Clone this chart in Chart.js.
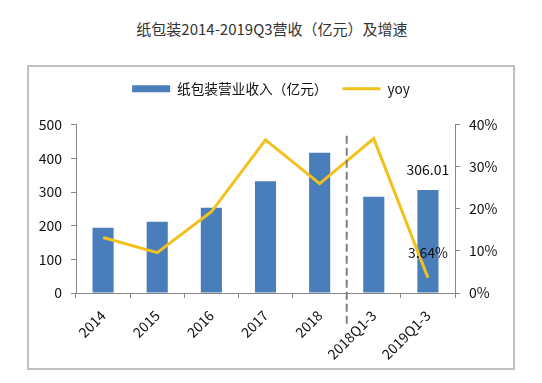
<!DOCTYPE html>
<html>
<head>
<meta charset="utf-8">
<script src="https://cdn.jsdelivr.net/npm/chart.js@4/dist/chart.umd.min.js"></script>
<style>
  html, body { margin: 0; padding: 0; background: #fff; }
  body { width: 542px; height: 383px; position: relative; overflow: hidden; font-family: "Noto Sans CJK SC", sans-serif; }
  #title { position: absolute; left: 0; top: 19px; width: 544px; text-align: center; font-size: 15px; color: #333; line-height: 20px; }
  #frame { position: absolute; left: 27px; top: 65px; width: 488px; height: 305px; border: 2px solid #c0c0c0; box-sizing: border-box; }
  #c { display: block; }
</style>
</head>
<body>
<div id="title">纸包装2014-2019Q3营收（亿元）及增速</div>
<div id="frame"><canvas id="c" width="484" height="301"></canvas></div>
<script>
const categories = ['2014', '2015', '2016', '2017', '2018', '2018Q1-3', '2019Q1-3'];
const revenue = [194, 212, 253, 332, 417, 286, 306.01];
const yoy = [13.2, 9.6, 19.3, 36.4, 26.0, 36.7, 3.64];
const revenueTicks = [0, 100, 200, 300, 400, 500];
const yoyTicks = [0, 10, 20, 30, 40];
const seriesNames = ['纸包装营业收入（亿元）', 'yoy'];
const revenueLabel = '306.01';
const yoyLabel = '3.64%';

const FONT = '"Noto Sans CJK SC", sans-serif';
const AXIS = '#868686';

// extra space between the legend and the plot area
const legendGap = {
  id: 'legendGap',
  beforeLayout(chart) {
    const lg = chart.legend;
    if (lg && !lg._gapPatched) {
      const fit = lg.fit;
      lg.fit = function () { fit.call(this); this.height += 19; };
      lg._gapPatched = true;
    }
  }
};

const overlay = {
  id: 'overlay',
  afterDatasetsDraw(chart) {
    const ctx = chart.ctx;
    const x = chart.scales.x;
    const area = chart.chartArea;
    // dashed separator between 2018 and 2018Q1-3
    const sx = (x.getPixelForValue(4) + x.getPixelForValue(5)) / 2;
    ctx.save();
    ctx.strokeStyle = '#7f7f7f';
    ctx.lineWidth = 2;
    ctx.setLineDash([8, 4]);
    ctx.beginPath();
    ctx.moveTo(sx, area.top + 11);
    ctx.lineTo(sx, area.bottom + 33);
    ctx.stroke();
    ctx.restore();

    // data labels on the last category
    ctx.save();
    ctx.font = '14px ' + FONT;
    ctx.fillStyle = '#111';
    ctx.textAlign = 'center';
    ctx.textBaseline = 'middle';
    const barMeta = chart.getDatasetMeta(0);
    const lineMeta = chart.getDatasetMeta(1);
    const last = categories.length - 1;
    const b = barMeta.data[last];
    ctx.fillText(revenueLabel, b.x, b.y - 20);
    const p = lineMeta.data[last];
    ctx.fillText(yoyLabel, p.x, p.y - 25);
    ctx.restore();
  }
};

new Chart(document.getElementById('c'), {
  type: 'bar',
  data: {
    labels: categories,
    datasets: [
      {
        type: 'bar',
        label: seriesNames[0],
        data: revenue,
        backgroundColor: '#4a7ebb',
        borderWidth: 0,
        barPercentage: 0.39,
        categoryPercentage: 1,
        yAxisID: 'y',
        pointStyle: 'rect',
        order: 2
      },
      {
        type: 'line',
        label: seriesNames[1],
        data: yoy,
        borderColor: '#f3c11b',
        backgroundColor: '#f3c11b',
        borderWidth: 3,
        pointRadius: 0,
        tension: 0,
        yAxisID: 'y1',
        pointStyle: 'line',
        order: 1
      }
    ]
  },
  options: {
    responsive: false,
    animation: false,
    layout: { padding: { top: 0, left: 0, right: 0, bottom: 0 } },
    plugins: {
      title: { display: false },
      tooltip: { enabled: false },
      legend: {
        display: true,
        position: 'top',
        labels: {
          usePointStyle: true,
          pointStyleWidth: 38,
          boxWidth: 38,
          boxHeight: 7,
          padding: 15,
          color: '#111',
          font: { family: FONT, size: 13.7 },
          sort: (a, b) => a.datasetIndex - b.datasetIndex
        }
      }
    },
    scales: {
      x: {
        afterFit(s) { s.height = 75; },
        grid: { display: true, drawOnChartArea: false, drawTicks: true, tickLength: 5, color: AXIS, offset: true },
        border: { display: true, color: AXIS, width: 1 },
        ticks: { color: '#111', font: { family: FONT, size: 14 }, minRotation: 45, maxRotation: 45, padding: 9, autoSkip: false }
      },
      y: {
        position: 'left',
        min: 0, max: 500,
        afterFit(s) { s.width = 47; },
        afterBuildTicks(s) { s.ticks = revenueTicks.map(v => ({ value: v })); },
        grid: { display: true, drawOnChartArea: false, drawTicks: true, tickLength: 5, color: AXIS },
        border: { display: true, color: AXIS, width: 1 },
        ticks: { color: '#111', font: { family: FONT, size: 14 }, padding: 9 }
      },
      y1: {
        position: 'right',
        min: 0, max: 40,
        afterFit(s) { s.width = 58; },
        afterBuildTicks(s) { s.ticks = yoyTicks.map(v => ({ value: v })); },
        grid: { display: true, drawOnChartArea: false, drawTicks: true, tickLength: 5, color: AXIS },
        border: { display: true, color: AXIS, width: 1 },
        ticks: { color: '#111', font: { family: FONT, size: 14 }, padding: 9, callback: v => v + '%' }
      }
    }
  },
  plugins: [legendGap, overlay]
});
</script>
</body>
</html>
